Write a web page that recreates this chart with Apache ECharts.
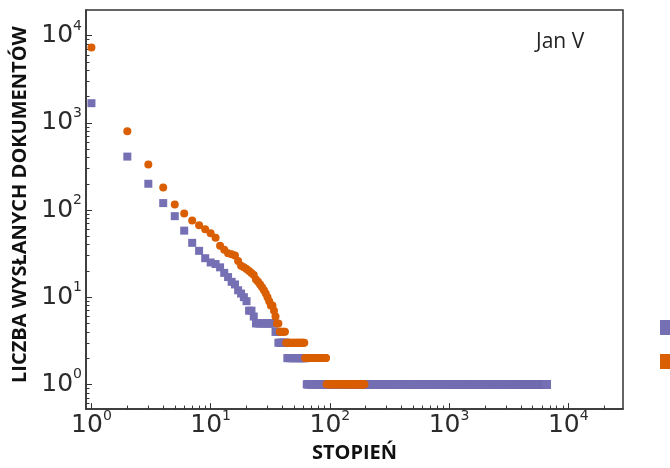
<!DOCTYPE html>
<html>
<head>
<meta charset="utf-8">
<script src="https://cdn.jsdelivr.net/npm/echarts@6/dist/echarts.min.js"></script>
<style>
  html, body { margin: 0; padding: 0; background: #fff; }
  #chart { width: 670px; height: 468px; }
</style>
</head>
<body>
<div id="chart"></div>
<script>
// rank plot: value at rank 1,2,3,... then plateaus [value, how many ranks]
const purpleHead = [1680, 410, 200, 120, 85, 58, 42, 34, 28, 25, 24, 22, 19, 17, 15, 14, 12, 11, 10, 9, 7, 7, 6];
const purpleTail = [[5, 11], [4, 2], [3, 7], [2, 20], [1, 6537]];
const orangeHead = [7300, 800, 332, 181, 116, 91, 76, 67, 60, 54, 48, 39, 35, 32, 31, 30, 26, 23, 22, 21, 20, 19, 18, 16, 15, 14, 13, 12, 11, 10, 9, 8, 8, 7, 6];
const orangeTail = [[5, 2], [4, 5], [3, 19], [2, 32], [1, 102]];
const seriesNames = ['wychodzące', 'przychodzące'];

const majorTicks = [1, 10, 100, 1000, 10000];
const xMinorTicks = [];
const yMinorTicks = [0.6, 0.7, 0.8, 0.9];
for (let e = 0; e <= 4; e++) {
  for (let m = 2; m <= 9; m++) {
    xMinorTicks.push(m * Math.pow(10, e));
    if (e <= 3) yMinorTicks.push(m * Math.pow(10, e));
  }
}

// rozwinięcie: ranga -> wartość
function expand(head, tail) {
  const out = [];
  head.forEach((v, i) => out.push([i + 1, v]));
  let r = head.length;
  tail.forEach(([v, n]) => {
    for (let k = 0; k < n; k++) { r++; out.push([r, v]); }
  });
  return out;
}

const axisColor = '#333';
const labelRich = {
  b: { fontSize: 25, fontFamily: 'DejaVu Sans', color: '#2b2b2b', lineHeight: 33 },
  s: { fontSize: 14, fontFamily: 'DejaVu Sans', color: '#2b2b2b', verticalAlign: 'top', lineHeight: 17 }
};
const powLabel = v => '{b|10}{s|' + Math.round(Math.log10(v)) + '}';

const X_MIN = 0.9, X_MAX = 28800, Y_MIN = 0.52, Y_MAX = 19700;

const chart = echarts.init(document.getElementById('chart'), null, { renderer: 'canvas' });
chart.setOption({
  animation: false,
  backgroundColor: '#fff',
  grid: { left: 86, top: 10, width: 537, height: 400, show: true, borderColor: axisColor, borderWidth: 1.5, backgroundColor: 'transparent' },
  legend: {
    orient: 'vertical', left: 655, top: 315, itemWidth: 15, itemHeight: 15, itemGap: 19,
    icon: 'rect', textStyle: { fontSize: 12, color: '#333' }, data: seriesNames
  },
  xAxis: [
    {
      type: 'log', logBase: 10, min: X_MIN, max: X_MAX, position: 'bottom',
      name: 'STOPIEŃ', nameLocation: 'middle', nameGap: 30,
      nameTextStyle: { fontFamily: 'Open Sans', fontWeight: 'bold', fontSize: 20, color: '#111' },
      axisLine: { show: true, lineStyle: { color: axisColor, width: 1.5 } },
      axisTick: { show: true, inside: true, length: 6, customValues: majorTicks, lineStyle: { color: axisColor, width: 1 } },
      axisLabel: { customValues: majorTicks, margin: 0, formatter: powLabel, rich: labelRich },
      splitLine: { show: false }
    },
    {
      type: 'log', logBase: 10, min: X_MIN, max: X_MAX, position: 'bottom',
      axisLine: { show: false },
      axisTick: { show: true, inside: true, length: 3.5, customValues: xMinorTicks, lineStyle: { color: axisColor, width: 1 } },
      axisLabel: { show: false },
      splitLine: { show: false }
    }
  ],
  yAxis: [
    {
      type: 'log', logBase: 10, min: Y_MIN, max: Y_MAX, position: 'left',
      name: 'LICZBA WYSŁANYCH DOKUMENTÓW', nameLocation: 'middle', nameGap: 54, nameRotate: 90,
      nameTextStyle: { fontFamily: 'Open Sans', fontWeight: 'bold', fontSize: 20, color: '#111', padding: [0, 0, 0, 10] },
      axisLine: { show: true, lineStyle: { color: axisColor, width: 1.5 } },
      axisTick: { show: true, inside: true, length: 6, customValues: majorTicks, lineStyle: { color: axisColor, width: 1 } },
      axisLabel: { customValues: majorTicks, margin: 4, formatter: powLabel, rich: labelRich },
      splitLine: { show: false }
    },
    {
      type: 'log', logBase: 10, min: Y_MIN, max: Y_MAX, position: 'left',
      axisLine: { show: false },
      axisTick: { show: true, inside: true, length: 3.5, customValues: yMinorTicks, lineStyle: { color: axisColor, width: 1 } },
      axisLabel: { show: false },
      splitLine: { show: false }
    }
  ],
  graphic: [
    { type: 'text', left: 536, top: 32, style: { text: 'Jan V', fontFamily: 'Open Sans', fontSize: 21, fill: '#222' } }
  ],
  series: [
    {
      name: seriesNames[0], type: 'scatter', xAxisIndex: 0, yAxisIndex: 0,
      symbol: 'rect', symbolSize: 8, progressive: 0, large: false,
      itemStyle: { color: '#7570b3', opacity: 1 },
      data: expand(purpleHead, purpleTail)
    },
    {
      name: seriesNames[1], type: 'scatter', xAxisIndex: 0, yAxisIndex: 0,
      symbol: 'circle', symbolSize: 8, progressive: 0, large: false,
      itemStyle: { color: '#d95f02', opacity: 1 },
      data: expand(orangeHead, orangeTail)
    }
  ]
});
</script>
</body>
</html>
